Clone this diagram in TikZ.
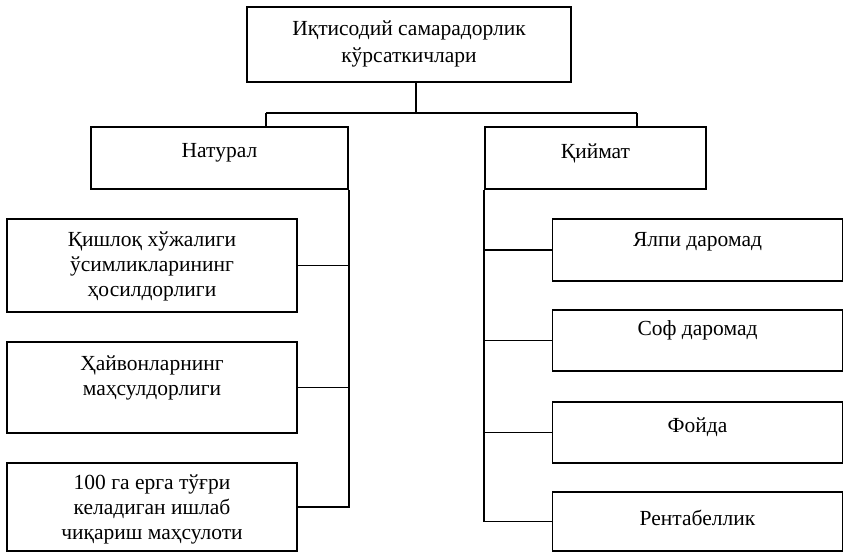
\documentclass[tikz,border=0pt]{standalone}
\usepackage{fontspec}
\setmainfont{Liberation Serif}
\usetikzlibrary{calc}
\begin{document}
\begin{tikzpicture}[x=1pt,y=-1pt,
  box/.style={draw=black,line width=1.7pt,rectangle,inner sep=0pt},
  lbl/.style={inner sep=0pt,align=center,font=\fontsize{21.5}{25}\selectfont,text=black},
  conn/.style={draw=black,line width=1.7pt}]
\useasboundingbox[fill=white] (0,0) rectangle (846,552);
% boxes
\node[box,minimum width=324pt,minimum height=75pt] (top) at (409,44.5) {};
\node[box,minimum width=257pt,minimum height=62pt] (nat) at (219.5,158) {};
\node[box,minimum width=221pt,minimum height=62pt] (qiy) at (595.5,158) {};
\node[box,minimum width=290pt,minimum height=93pt] (l1) at (152,265.5) {};
\node[box,minimum width=290pt,minimum height=91pt] (l2) at (152,387.5) {};
\node[box,minimum width=290pt,minimum height=88pt] (l3) at (152,507) {};
\node[box,minimum width=290pt,minimum height=62pt] (r1) at (697.5,250) {};
\node[box,minimum width=290pt,minimum height=61pt] (r2) at (697.5,340.5) {};
\node[box,minimum width=290pt,minimum height=61pt] (r3) at (697.5,432.5) {};
\node[box,minimum width=290pt,minimum height=59pt] (r4) at (697.5,521.5) {};
% texts
\node[lbl,font=\fontsize{21.5}{27}\selectfont] (topt) at ($(top.center)+(0,-1)$) {Иқтисодий самарадорлик\\кўрсаткичлари};
\node[lbl] (natt) at ($(nat.center)+(0,-5)$) {Натурал};
\node[lbl] (qiyt) at ($(qiy.center)+(0,-5)$) {Қиймат};
\node[lbl] (l1t) at ($(l1.center)+(0,1)$) {Қишлоқ хўжалиги\\ўсимликларининг\\ҳосилдорлиги};
\node[lbl] (l2t) at ($(l2.center)+(0,-10)$) {Ҳайвонларнинг\\маҳсулдорлиги};
\node[lbl] (l3t) at ($(l3.center)+(0,2)$) {100 га ерга тўғри\\келадиган ишлаб\\чиқариш маҳсулоти};
\node[lbl] (r1t) at ($(r1.center)+(0,-8)$) {Ялпи даромад};
\node[lbl] (r2t) at ($(r2.center)+(0,-10)$) {Соф даромад};
\node[lbl] (r3t) at ($(r3.center)+(0,-5)$) {Фойда};
\node[lbl] (r4t) at ($(r4.center)+(0,-4)$) {Рентабеллик};
% connectors
\coordinate (bus) at (416,113);
\draw[conn] (top.south -| bus) -- (bus);
\draw[conn] (266,113) coordinate (bl) -- (637,113) coordinate (br);
\draw[conn] (bl) -- (bl |- nat.north);
\draw[conn] (br) -- (br |- qiy.north);
% left trunk
\coordinate (lt) at (nat.south east);
\draw[conn] (lt) -- (lt |- l3.east) -- (l3.east);
\draw[conn] (l1.east) -- (l1.east -| lt);
\draw[conn] (l2.east) -- (l2.east -| lt);
% right trunk
\coordinate (rt) at (qiy.south west);
\draw[conn] (rt) -- (rt |- r4.west) -- (r4.west);
\draw[conn] (r1.west) -- (r1.west -| rt);
\draw[conn] (r2.west) -- (r2.west -| rt);
\draw[conn] (r3.west) -- (r3.west -| rt);
\end{tikzpicture}
\end{document}
